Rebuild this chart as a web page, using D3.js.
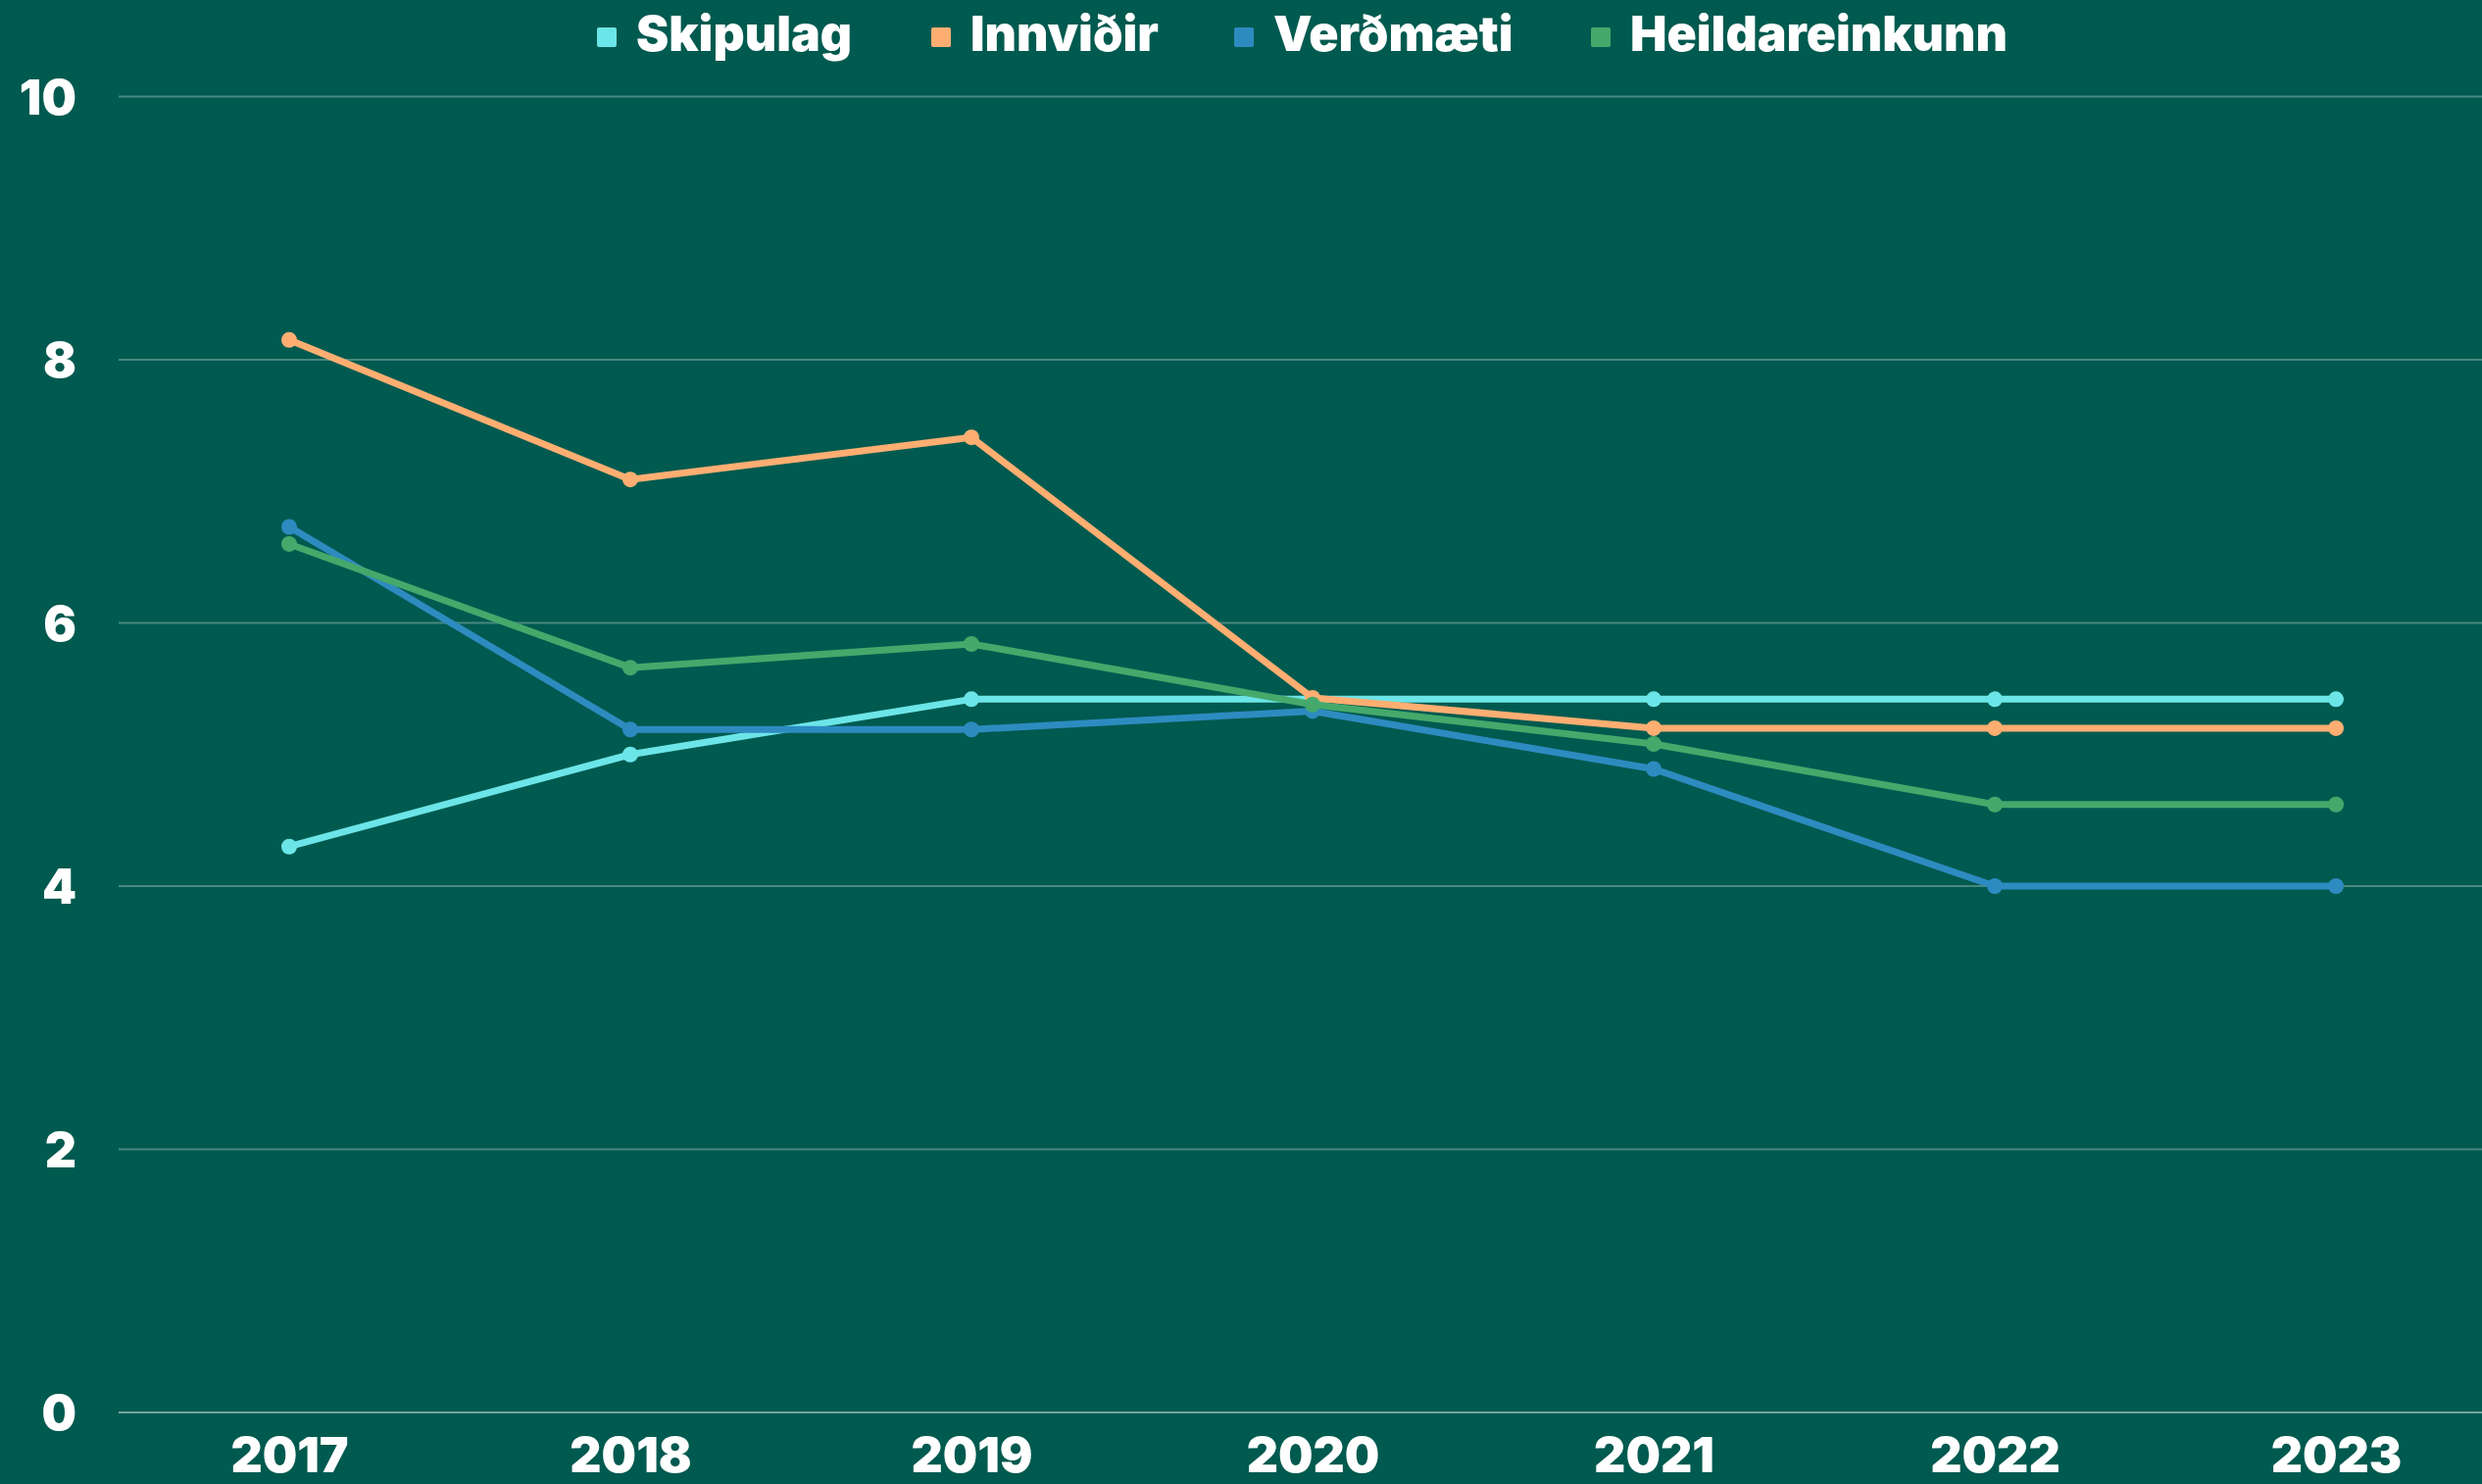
<!DOCTYPE html>
<html>
<head>
<meta charset="utf-8">
<script src="https://cdn.jsdelivr.net/npm/d3@7/dist/d3.min.js"></script>
<style>
  html, body { margin: 0; padding: 0; background: #005a4f; }
  svg { display: block; }
  text { font-family: Inter, "Open Sans", sans-serif; font-weight: 900; fill: #ffffff; }
</style>
</head>
<body>
<script>
const years = ["2017", "2018", "2019", "2020", "2021", "2022", "2023"];
const seriesNames = ["Skipulag", "Innviðir", "Verðmæti", "Heildareinkunn"];
const seriesColors = ["#6ce5e8", "#ffae72", "#2e8bc0", "#45a96b"];
const skipulag = [4.30, 5.00, 5.42, 5.42, 5.42, 5.42, 5.42];
const innvidir = [8.15, 7.09, 7.41, 5.43, 5.20, 5.20, 5.20];
const verdmaeti = [6.73, 5.19, 5.19, 5.33, 4.89, 4.00, 4.00];
const heildareinkunn = [6.60, 5.66, 5.84, 5.38, 5.08, 4.62, 4.62];
const yTicks = [0, 2, 4, 6, 8, 10];

const seriesValues = [skipulag, innvidir, verdmaeti, heildareinkunn];

const W = 2532, H = 1514;
const svg = d3.select("body").append("svg").attr("width", W).attr("height", H);
svg.append("rect").attr("width", W).attr("height", H).attr("fill", "#005a4f");

const x = d3.scalePoint().domain(years).range([295, 2383]);
const y = d3.scaleLinear().domain([0, 10]).range([1441, 98.5]);
const gridLeft = 121, gridRight = 2532;

// gridlines
svg.append("g").selectAll("line").data(yTicks).join("line")
  .attr("x1", gridLeft).attr("x2", gridRight)
  .attr("y1", d => y(d)).attr("y2", d => y(d))
  .attr("stroke", d => d === 0 ? "rgba(255,255,255,0.45)" : "rgba(255,255,255,0.28)")
  .attr("stroke-width", 2);

// y axis labels
const yAxis = d3.axisLeft(y).tickValues(yTicks).tickSize(0).tickPadding(0);
const yg = svg.append("g").attr("transform", "translate(78,0)").call(yAxis);
yg.select(".domain").remove();
yg.selectAll("text").attr("font-size", 50).attr("fill", "#fff")
  .style("font-family", "Inter, sans-serif").style("font-weight", 900).attr("dy", "0.35em").attr("x", 0);

// x axis labels
const xAxis = d3.axisBottom(x).tickSize(0).tickPadding(0);
const xg = svg.append("g").attr("transform", "translate(0,1502)").call(xAxis);
xg.select(".domain").remove();
xg.selectAll("text").attr("font-size", 50).attr("fill", "#fff")
  .style("font-family", "Inter, sans-serif").style("font-weight", 900).attr("dy", "0").attr("y", 0);

// lines
const line = d3.line().x((d, i) => x(years[i])).y(d => y(d));
seriesValues.forEach((vals, si) => {
  const g = svg.append("g");
  g.append("path").datum(vals).attr("d", line)
    .attr("fill", "none").attr("stroke", seriesColors[si])
    .attr("stroke-width", 7).attr("stroke-linejoin", "round");
  g.selectAll("circle").data(vals).join("circle")
    .attr("cx", (d, i) => x(years[i])).attr("cy", d => y(d)).attr("r", 8)
    .attr("fill", seriesColors[si]);
});

// legend
const legendX = [609, 950, 1259, 1623];
const lg = svg.append("g");
seriesNames.forEach((name, i) => {
  lg.append("rect").attr("x", legendX[i]).attr("y", 28).attr("width", 20).attr("height", 20)
    .attr("rx", 2).attr("fill", seriesColors[i]);
  lg.append("text").attr("x", legendX[i] + 40).attr("y", 52)
    .attr("font-size", 50).text(name);
});
</script>
</body>
</html>
